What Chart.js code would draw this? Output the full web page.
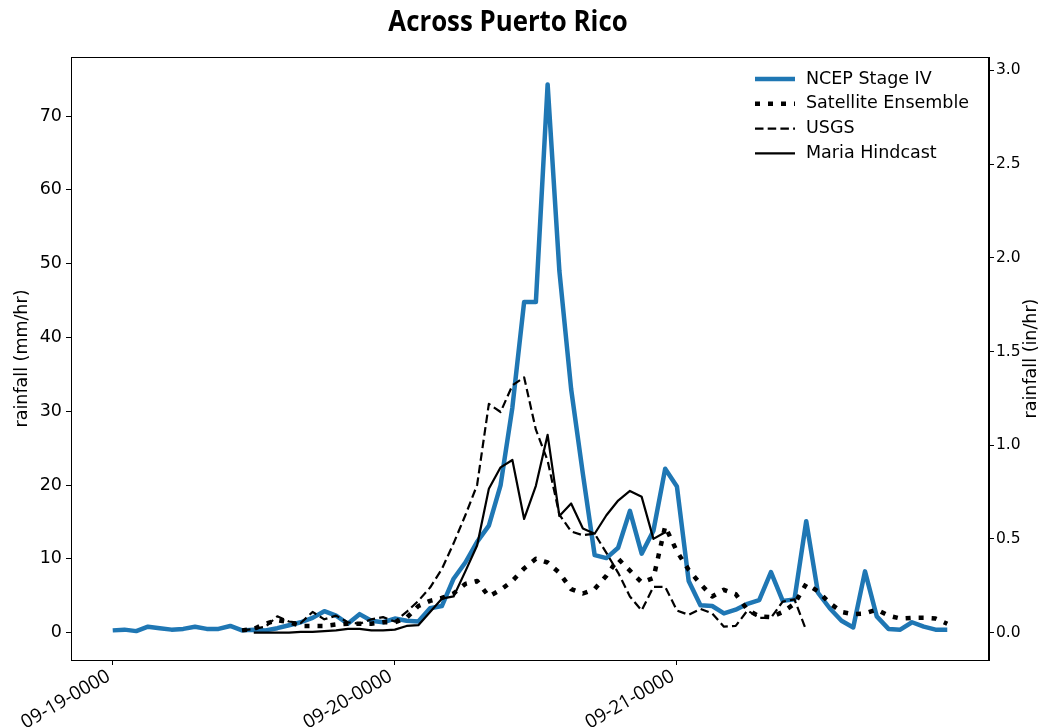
<!DOCTYPE html>
<html>
<head>
<meta charset="utf-8">
<script src="https://cdn.jsdelivr.net/npm/chart.js@4.4.1/dist/chart.umd.min.js"></script>
<style>
  html, body { margin: 0; padding: 0; background: #ffffff; }
  #wrap { width: 1040px; height: 727px; }
</style>
</head>
<body>
<div id="wrap"><canvas id="c" width="1040" height="727"></canvas></div>
<script>
// Hourly time axis, hours since 09-19 00:00
const hours = Array.from({ length: 72 }, (_, i) => i);
const dateTickHours = [0, 24, 48];
const dateTickLabels = ['09-19-0000', '09-20-0000', '09-21-0000'];
const mmTicks = [0, 10, 20, 30, 40, 50, 60, 70];
const inTicks = [0, 0.5, 1, 1.5, 2, 2.5, 3];

// Hourly rainfall, mm/hr (null = no record)
const ncepStageIV = [
  0.3, 0.4, 0.2, 0.8, 0.6, 0.4, 0.5, 0.8, 0.5, 0.5,
  0.9, 0.3, 0.4, 0.3, 0.6, 1.0, 1.4, 2.0, 2.9, 2.3,
  1.2, 2.5, 1.6, 1.4, 1.9, 1.6, 1.5, 3.3, 3.6, 7.3,
  9.5, 12.3, 14.5, 20.0, 30.5, 44.8, 44.8, 74.3, 49.0, 33.0,
  21.5, 10.5, 10.1, 11.5, 16.5, 10.7, 13.8, 22.2, 19.8, 7.0,
  3.7, 3.6, 2.6, 3.1, 3.9, 4.4, 8.2, 4.3, 4.5, 15.1,
  5.4, 3.3, 1.6, 0.7, 8.3, 2.2, 0.5, 0.4, 1.4, 0.8,
  0.4, 0.4
];
const satelliteEnsemble = [
  null, null, null, null, null, null, null, null, null, null,
  null, 0.3, 0.5, 1.2, 1.7, 1.4, 0.9, 0.9, 0.9, 1.1,
  1.2, 1.2, 1.2, 1.4, 1.4, 2.0, 3.6, 4.3, 4.7, 5.3,
  6.6, 7.0, 4.9, 5.8, 7.0, 8.7, 10.0, 9.5, 8.1, 5.9,
  5.3, 5.9, 7.7, 10.0, 8.4, 6.8, 7.4, 14.4, 11.0, 8.5,
  6.6, 4.9, 5.8, 5.2, 3.1, 2.2, 2.1, 2.8, 3.9, 6.6,
  5.6, 4.0, 2.8, 2.5, 2.6, 3.1, 2.3, 1.9, 2.0, 2.0,
  1.9, 1.2
];
const usgs = [
  null, null, null, null, null, null, null, null, null, null,
  null, 0.3, 0.5, 0.8, 2.2, 1.5, 1.3, 2.8, 1.8, 2.3,
  1.4, 1.2, 1.8, 2.1, 1.5, 2.8, 4.3, 6.1, 8.6, 12.1,
  15.9, 20.0, 31.0, 29.9, 33.5, 34.6, 27.5, 23.3, 16.0, 13.7,
  13.2, 13.4, 10.8, 8.1, 4.9, 3.0, 6.2, 6.2, 3.0, 2.4,
  3.2, 2.6, 0.8, 0.9, 3.0, 2.0, 2.0, 4.2, 4.5, 0.3,
  null, null, null, null, null, null, null, null, null, null,
  null, null
];
const mariaHindcast = [
  null, null, null, null, null, null, null, null, null, null,
  null, null, 0.0, 0.0, 0.0, 0.0, 0.1, 0.1, 0.2, 0.3,
  0.5, 0.5, 0.3, 0.3, 0.4, 0.9, 1.0, 2.8, 4.6, 4.9,
  8.3, 11.8, 19.5, 22.4, 23.4, 15.4, 19.9, 26.8, 15.8, 17.5,
  14.1, 13.4, 15.9, 17.9, 19.2, 18.4, 12.7, 13.6, null, null,
  null, null, null, null, null, null, null, null, null, null,
  null, null, null, null, null, null, null, null, null, null,
  null, null
];

const MM_PER_IN = 25.4;
const yMin = -3.715, yMax = 78.015;
const tickFont = { family: 'DejaVu Sans', size: 17.5 };
const rightTickFont = { family: 'DejaVu Sans', size: 15.5 };
const dateFont = { family: 'Open Sans', size: 19 };
const chartTitle = 'Across Puerto Rico';

const toPoints = (vals) => hours.map((h, i) => ({ x: h, y: vals[i] }));

// Title, box around the plot, right-hand axis title and the in-plot legend
const framePlugin = {
  id: 'frame',
  afterDraw(chart) {
    const { ctx, chartArea: a } = chart;

    // title, set in a condensed bold face
    ctx.save();
    ctx.fillStyle = '#000';
    ctx.font = 'bold 29px "Open Sans"';
    ctx.textAlign = 'center';
    ctx.textBaseline = 'alphabetic';
    ctx.translate(508, 31);
    ctx.scale(0.89, 1);
    ctx.fillText(chartTitle, 0, 0);
    ctx.restore();

    ctx.save();
    ctx.strokeStyle = '#000';
    ctx.lineWidth = 1;
    ctx.strokeRect(Math.round(a.left) + 0.5, Math.round(a.top) + 0.5,
                   Math.round(a.right - a.left) - 1, Math.round(a.bottom - a.top));
    // right axis title, reading bottom to top
    ctx.translate(1031, (a.top + a.bottom) / 2);
    ctx.rotate(-Math.PI / 2);
    ctx.fillStyle = '#000';
    ctx.font = '17.5px "DejaVu Sans"';
    ctx.textAlign = 'center';
    ctx.textBaseline = 'middle';
    ctx.fillText('rainfall (in/hr)', 0, 0);
    ctx.restore();

    // legend
    ctx.save();
    ctx.font = '17.5px "DejaVu Sans"';
    ctx.textBaseline = 'middle';
    ctx.textAlign = 'left';
    chart.data.datasets.forEach((ds, i) => {
      const y = a.top + 22 + i * 24.8;
      const x0 = a.right - 234, x1 = a.right - 194;
      ctx.beginPath();
      ctx.strokeStyle = ds.borderColor;
      ctx.lineWidth = ds.borderWidth;
      ctx.setLineDash(ds.borderDash || []);
      ctx.lineCap = 'butt';
      ctx.moveTo(x0, y);
      ctx.lineTo(x1, y);
      ctx.stroke();
      ctx.setLineDash([]);
      ctx.fillStyle = '#000';
      ctx.fillText(ds.label, a.right - 183, y);
    });
    ctx.restore();
  }
};

new Chart(document.getElementById('c'), {
  type: 'line',
  data: {
    datasets: [
      { label: 'NCEP Stage IV', data: toPoints(ncepStageIV), borderColor: '#1f77b4',
        borderWidth: 4.5, order: 3 },
      { label: 'Satellite Ensemble', data: toPoints(satelliteEnsemble), borderColor: '#000000',
        borderWidth: 4.5, borderDash: [5, 8], order: 2 },
      { label: 'USGS', data: toPoints(usgs), borderColor: '#000000',
        borderWidth: 2.2, borderDash: [8.5, 4.2], order: 1 },
      { label: 'Maria Hindcast', data: toPoints(mariaHindcast), borderColor: '#000000',
        borderWidth: 2.2, order: 0 }
    ]
  },
  options: {
    responsive: false,
    animation: false,
    devicePixelRatio: 1,
    layout: { padding: { top: 57, left: 0, right: 0, bottom: 0 }, autoPadding: false },
    elements: {
      point: { radius: 0, hoverRadius: 0 },
      line: { tension: 0, fill: false, borderJoinStyle: 'round', borderCapStyle: 'butt' }
    },
    plugins: {
      legend: { display: false },
      tooltip: { enabled: false },
      title: { display: false }
    },
    scales: {
      x: {
        type: 'linear',
        position: 'bottom',
        min: -3.55,
        max: 74.55,
        afterBuildTicks: (s) => { s.ticks = dateTickHours.map(v => ({ value: v })); },
        afterFit: (s) => { s.height = 67; },
        ticks: {
          autoSkip: false,
          minRotation: 30,
          maxRotation: 30,
          color: '#000',
          font: dateFont,
          padding: 0,
          labelOffset: -4,
          callback: (v) => dateTickLabels[dateTickHours.indexOf(v)]
        },
        grid: { drawOnChartArea: false, drawTicks: true, tickLength: 5, color: '#000' },
        border: { display: true, color: '#000' }
      },
      y: {
        type: 'linear',
        position: 'left',
        min: yMin,
        max: yMax,
        afterBuildTicks: (s) => { s.ticks = mmTicks.map(v => ({ value: v })); },
        afterFit: (s) => { s.width = 71; },
        ticks: { color: '#000', font: tickFont, padding: 4 },
        grid: { drawOnChartArea: false, drawTicks: true, tickLength: 5, color: '#000' },
        border: { display: true, color: '#000' },
        title: {
          display: true,
          text: 'rainfall (mm/hr)',
          color: '#000',
          font: { family: 'DejaVu Sans', size: 17.5, lineHeight: 1.2 },
          padding: { top: 12, bottom: 0 }
        }
      },
      y2: {
        type: 'linear',
        position: 'right',
        min: yMin / MM_PER_IN,
        max: yMax / MM_PER_IN,
        afterBuildTicks: (s) => { s.ticks = inTicks.map(v => ({ value: v })); },
        afterFit: (s) => { s.width = 51; },
        ticks: { color: '#000', font: rightTickFont, padding: 2, callback: (v) => v.toFixed(1) },
        grid: { drawOnChartArea: false, drawTicks: true, tickLength: 5, color: '#000' },
        border: { display: true, color: '#000' }
      }
    }
  },
  plugins: [framePlugin]
});
</script>
</body>
</html>
